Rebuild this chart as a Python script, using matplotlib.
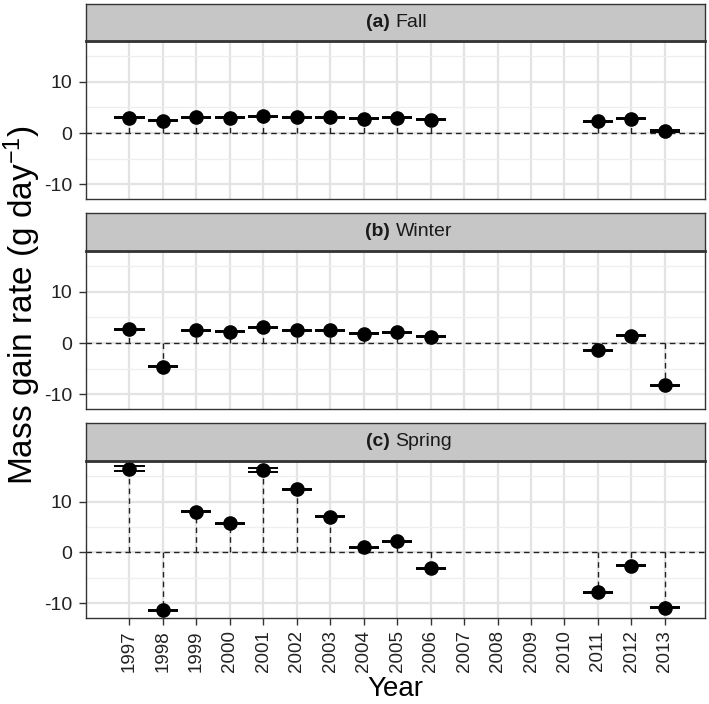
import matplotlib
matplotlib.use("Agg")
import matplotlib.pyplot as plt
import numpy as np

plt.rcParams['font.family'] = ['Liberation Sans Narrow', 'Liberation Sans', 'DejaVu Sans']
plt.rcParams['mathtext.fontset'] = 'custom'
plt.rcParams['mathtext.rm'] = 'Liberation Sans Narrow'
plt.rcParams['mathtext.default'] = 'regular'
plt.rcParams['axes.unicode_minus'] = False

# data
years = [1997, 1998, 1999, 2000, 2001, 2002, 2003, 2004, 2005, 2006, 2011, 2012, 2013]
fall = [3.0, 2.4, 3.1, 3.0, 3.3, 3.1, 3.1, 2.8, 3.0, 2.6, 2.3, 2.8, 0.4]
winter = [2.7, -4.6, 2.5, 2.2, 3.1, 2.5, 2.5, 1.8, 2.1, 1.2, -1.4, 1.4, -8.3]
spring = [16.5, -11.4, 8.0, 5.7, 16.3, 12.4, 7.0, 1.0, 2.2, -3.1, -7.8, -2.6, -10.9]
fall_err = [0.1] * 13
winter_err = [0.1] * 13
spring_err = [0.45, 0.1, 0.1, 0.1, 0.4, 0.15, 0.1, 0.1, 0.1, 0.1, 0.1, 0.1, 0.1]

panel_tags = ['(a)', '(b)', '(c)']
panel_names = ['Fall', 'Winter', 'Spring']
tick_years = list(range(1997, 2014))
yticks = [-10, 0, 10]
yminor = [-5, 5, 15]

W, H = 709, 704
fig = plt.figure(figsize=(W / 100, H / 100), dpi=100)

# pixel boxes: (strip top, plot top, plot bottom)
boxes = [(4, 41, 199), (213, 251, 409), (423, 461, 618)]
x0, x1 = 86, 705
dark = '#333333'
tick_font = 'Liberation Sans'

series = [(fall, fall_err), (winter, winter_err), (spring, spring_err)]

for i, (st, pt, pb) in enumerate(boxes):
    ax = fig.add_axes([x0 / W, 1 - pb / H, (x1 - x0) / W, (pb - pt) / H])
    vals, errs = series[i]
    yrs = np.array(years)
    v = np.array(vals)
    e = np.array(errs)

    ax.set_xlim(1995.7, 2014.2)
    ax.set_ylim(-12.9, 18.0)
    ax.set_xticks(tick_years)
    ax.set_xticks([], minor=True)
    ax.set_yticks(yticks)
    ax.set_yticks(yminor, minor=True)
    ax.grid(True, which='major', color='#E3E3E3', lw=1.6, zorder=0)
    ax.grid(True, which='minor', axis='y', color='#EEEEEE', lw=0.9, zorder=0)
    ax.set_axisbelow(True)

    ax.axhline(0, color='#222222', lw=1.0, ls=(0, (4, 3)), zorder=2)
    ax.vlines(yrs, 0, v, color='#222222', lw=1.0, linestyles=(0, (4, 3)), zorder=2)
    ax.hlines(v - e, yrs - 0.45, yrs + 0.45, color='black', lw=1.4, zorder=3)
    ax.hlines(v + e, yrs - 0.45, yrs + 0.45, color='black', lw=1.4, zorder=3)
    ax.plot(yrs, v, 'o', color='black', ms=9.5, zorder=4)

    for s in ax.spines.values():
        s.set_color(dark)
        s.set_linewidth(1.0)
    ax.tick_params(axis='y', labelsize=14, color=dark, length=5, width=1, pad=5,
                   labelcolor='#222222')
    ax.tick_params(axis='y', which='minor', length=0)
    for lab in ax.get_yticklabels():
        lab.set_family(tick_font)
    if i < 2:
        ax.tick_params(axis='x', length=0, labelbottom=False)
    else:
        ax.tick_params(axis='x', labelsize=13.5, color=dark, length=5, width=1, pad=4,
                       labelrotation=90, labelcolor='#222222')
        for lab in ax.get_xticklabels():
            lab.set_family(tick_font)

    # facet strip
    sax = fig.add_axes([x0 / W, 1 - pt / H, (x1 - x0) / W, (pt - st) / H])
    sax.set_facecolor('#C6C6C6')
    sax.set_xticks([])
    sax.set_yticks([])
    for s in sax.spines.values():
        s.set_color(dark)
        s.set_linewidth(1.0)
    sax.spines['bottom'].set_linewidth(2.0)
    sax.text(0.5, 0.5, panel_tags[i] + ' ', transform=sax.transAxes, ha='right', va='center',
             fontsize=14, fontweight='bold', color='#1A1A1A')
    sax.text(0.5, 0.5, panel_names[i], transform=sax.transAxes, ha='left', va='center',
             fontsize=14, color='#1A1A1A')

fig.text(22 / W, 1 - 305 / H, r'Mass gain rate (g day$^{-1}$)', rotation=90,
         ha='center', va='center', fontsize=24)
fig.text((x0 + x1) / 2 / W, 2 / H, 'Year', ha='center', va='bottom', fontsize=20)

fig.savefig('out.png', dpi=100)
